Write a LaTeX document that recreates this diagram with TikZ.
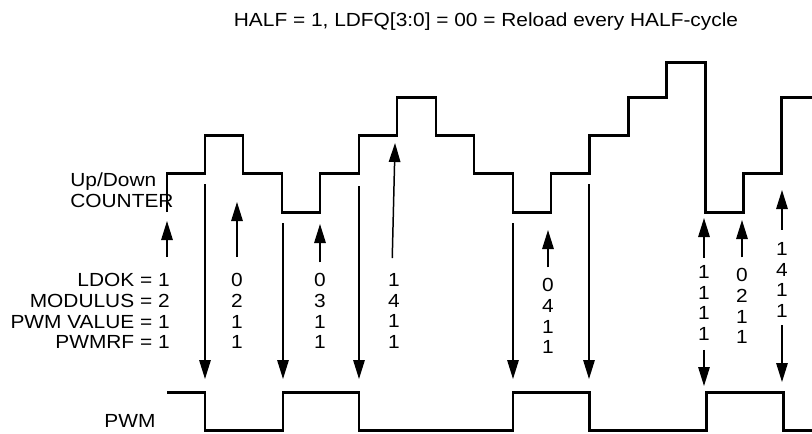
\documentclass[tikz,border=0pt]{standalone}
\usepackage{fontspec}
\setmainfont{Liberation Sans}[FakeStretch=1.1]
\usetikzlibrary{arrows.meta}

\begin{document}
\begin{tikzpicture}[
  x=0.2mm, y=-0.2mm,
  font=\fontsize{10.8}{11.8}\selectfont,
  wave/.style={line width=1.7pt, line join=miter},
  ptr/.style={-{Triangle[length=3.8mm, width=2.3mm]}, line width=0.85pt},
  lbl/.style={align=center, inner sep=0pt},
]
\useasboundingbox (0,0) rectangle (812,433);

% ---- title ----
\node[lbl] (title) at (486,22) {HALF = 1, LDFQ[3:0] = 00 = Reload every HALF-cycle};

% ---- signal names ----
\node[lbl, align=left, anchor=west] (cnt) at (70,190) {Up/Down\\COUNTER};
\node[lbl] (pwm) at (130,421) {PWM};
\node[lbl, align=right, anchor=east] (par) at (170,311) {LDOK = 1\\MODULUS = 2\\PWM VALUE = 1\\PWMRF = 1};

% ---- reload values ----
\node[lbl] (v1) at (237,311) {0\\2\\1\\1};
\node[lbl] (v2) at (320,311) {0\\3\\1\\1};
\node[lbl] (v3) at (394,311) {1\\4\\1\\1};
\node[lbl] (v4) at (548,316) {0\\4\\1\\1};
\node[lbl] (v5) at (704,303) {1\\1\\1\\1};
\node[lbl] (v6) at (742,306) {0\\2\\1\\1};
\node[lbl] (v7) at (782,280) {1\\4\\1\\1};

% ---- waveforms ----
\draw[wave] (167,212) |- (205,173) |- (243,135) |- (282,173) |- (320,212) |- (359,173)
  |- (397,135) |- (436,97) |- (474,135) |- (513,173) |- (551,212) |- (589,173)
  |- (628,135) |- (666,97) |- (705,62) |- (743,212) |- (781,173) |- (812,97);
\draw[wave] (167,392) -| (205,430) -| (283,392) -| (359,430) -| (513,392)
  -| (589,430) -| (706,392) -| (783,430) -- (812,430);

% ---- PWM edges ----
\foreach \x/\ya in {205/184, 283/223, 359/186, 513/223, 589/184}
  \draw[ptr] (\x,\ya) -- (\x,379);

% ---- reloads ----
\draw[ptr] (167,257) -- (167,221);
\foreach \v/\gap/\tip in {v1/9/202, v2/6/224, v4/6/230, v5/4/218, v6/6/220, v7/7/190}
  \draw[ptr] ([yshift=\gap pt]\v.north) -- (\v.north |- 0,\tip);
\draw[ptr] ([xshift=-1pt, yshift=8.5pt]v3.north) -- ([xshift=0.6pt]v3.north |- 0,143);
\draw[ptr] ([yshift=-5pt]v5.south) -- (v5.south |- 0,386);
\draw[ptr] ([yshift=-4pt]v7.south) -- (v7.south |- 0,382);
\end{tikzpicture}
\end{document}
